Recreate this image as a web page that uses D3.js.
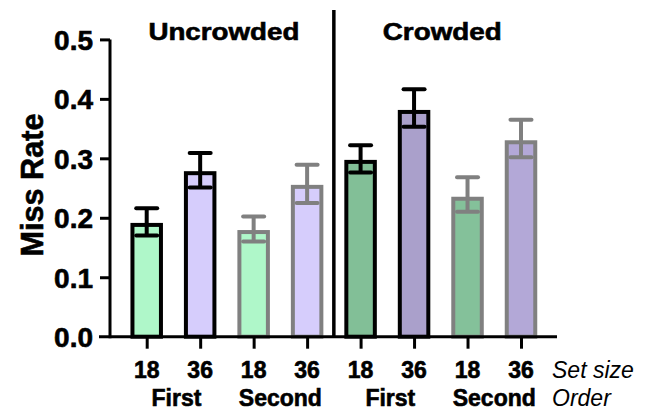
<!DOCTYPE html>
<html>
<head>
<meta charset="utf-8">
<script src="https://cdn.jsdelivr.net/npm/d3@7/dist/d3.min.js"></script>
<style>
  body { margin: 0; background: #fff; }
  svg { display: block; font-family: "Liberation Sans", Arial, Helvetica, sans-serif; }
  .heavy { stroke: #000; stroke-width: 0.6px; paint-order: stroke; }
</style>
</head>
<body>
<svg id="chart" width="648" height="412"></svg>
<script>
// ---- data ----
const conditions = ["Uncrowded", "Crowded"];
const orders = ["First", "Second"];
const setSizes = ["18", "36"];
const barKeys = ["U-F-18", "U-F-36", "U-S-18", "U-S-36", "C-F-18", "C-F-36", "C-S-18", "C-S-36"];
const missRate = [0.188, 0.275, 0.176, 0.252, 0.294, 0.378, 0.232, 0.327];
const errLow   = [0.170, 0.251, 0.160, 0.225, 0.276, 0.353, 0.210, 0.302];
const errHigh  = [0.216, 0.309, 0.202, 0.289, 0.322, 0.416, 0.268, 0.365];
const yTicks = [0.0, 0.1, 0.2, 0.3, 0.4, 0.5];
const fills = ["#aff7c9", "#d6cdfc", "#aff7c9", "#d6cdfc", "#82bf97", "#aaa0cb", "#84c19a", "#b3a8d7"];
const strokes = ["#000", "#000", "#808080", "#808080", "#000", "#000", "#808080", "#808080"];

// ---- layout ----
const svg = d3.select("#chart");
const y = d3.scaleLinear().domain([0, 0.5]).range([336.7, 39.4]);
const x = d3.scalePoint().domain(barKeys).range([146.7, 521]);
const barW = 28.5;
const sw = 4;

// bars
svg.append("g").selectAll("rect").data(barKeys).join("rect")
  .attr("x", d => x(d) - barW / 2)
  .attr("y", (d, i) => y(missRate[i]))
  .attr("width", barW)
  .attr("height", (d, i) => y(0) - y(missRate[i]))
  .attr("fill", (d, i) => fills[i])
  .attr("stroke", (d, i) => strokes[i])
  .attr("stroke-width", sw);

// error bars
const capW = 21;
const eg = svg.append("g").selectAll("g").data(barKeys).join("g")
  .attr("stroke", (d, i) => strokes[i])
  .attr("stroke-width", 4);
eg.append("line")
  .attr("x1", d => x(d)).attr("x2", d => x(d))
  .attr("y1", (d, i) => y(errLow[i])).attr("y2", (d, i) => y(errHigh[i]));
eg.append("line")
  .attr("x1", d => x(d) - capW / 2).attr("x2", d => x(d) + capW / 2)
  .attr("y1", (d, i) => y(errHigh[i])).attr("y2", (d, i) => y(errHigh[i]))
  .attr("stroke-linecap", "round");
eg.append("line")
  .attr("x1", d => x(d) - capW / 2).attr("x2", d => x(d) + capW / 2)
  .attr("y1", (d, i) => y(errLow[i])).attr("y2", (d, i) => y(errLow[i]))
  .attr("stroke-linecap", "round");

// y axis
const yAxis = d3.axisLeft(y).tickValues(yTicks).tickFormat(d3.format(".1f")).tickSize(10).tickPadding(7);
const yg = svg.append("g").attr("transform", "translate(110,0)").call(yAxis);
yg.select(".domain").attr("stroke-width", 3).attr("d", `M0,${y(0.5)}V${y(0) + 1.5}`);
yg.selectAll(".tick line").attr("stroke-width", 3);
yg.selectAll(".tick").filter(d => d === 0).select("line").remove();
yg.selectAll(".tick text")
  .attr("class", "heavy")
  .attr("font-size", 28).attr("font-weight", "bold").attr("fill", "#000")
  .attr("dy", "0.36em");

// x axis
const xAxis = d3.axisBottom(x).tickSize(12).tickFormat(() => "");
const xg = svg.append("g").attr("transform", `translate(0,${y(0)})`).call(xAxis);
xg.select(".domain").attr("stroke-width", 3).attr("d", `M99,0H557`);
xg.selectAll(".tick line").attr("stroke-width", 3);

// set-size labels
svg.append("g").selectAll("text").data(barKeys).join("text")
  .attr("class", "heavy")
  .attr("x", d => x(d))
  .attr("y", 378)
  .attr("text-anchor", "middle")
  .attr("font-size", 23).attr("font-weight", "bold")
  .text((d, i) => setSizes[i % 2]);

// order labels
const pairs = [0, 1, 2, 3];
svg.append("g").selectAll("text").data(pairs).join("text")
  .attr("class", "heavy")
  .attr("x", p => (x(barKeys[2 * p]) + x(barKeys[2 * p + 1])) / 2 + (p % 2 === 0 ? 3 : 0))
  .attr("y", 406)
  .attr("text-anchor", "middle")
  .attr("font-size", 23).attr("font-weight", "bold")
  .text(p => orders[p % 2]);

// italic row names
svg.append("text").attr("x", 552).attr("y", 378)
  .attr("font-size", 23).attr("font-style", "italic").text("Set size");
svg.append("text").attr("x", 552).attr("y", 406)
  .attr("font-size", 23).attr("font-style", "italic").text("Order");

// divider
const divX = (x(barKeys[3]) + x(barKeys[4])) / 2;
svg.append("line")
  .attr("x1", divX).attr("x2", divX)
  .attr("y1", 10).attr("y2", 338)
  .attr("stroke", "#000").attr("stroke-width", 3.5);

// condition titles
const titleX = [(x(barKeys[0]) + x(barKeys[3])) / 2 - 3, (x(barKeys[4]) + x(barKeys[7])) / 2 + 1.5];
const titleLen = [151, 119];
svg.append("g").selectAll("text").data(conditions).join("text")
  .attr("class", "heavy")
  .attr("x", (d, i) => titleX[i])
  .attr("y", 40)
  .attr("text-anchor", "middle")
  .attr("font-size", 24).attr("font-weight", "bold")
  .attr("textLength", (d, i) => titleLen[i])
  .attr("lengthAdjust", "spacingAndGlyphs")
  .text(d => d);

// y axis title
svg.append("text")
  .attr("class", "heavy")
  .attr("transform", "translate(42.5,185) rotate(-90)")
  .attr("text-anchor", "middle")
  .attr("font-size", 32).attr("font-weight", "bold")
  .attr("textLength", 143).attr("lengthAdjust", "spacingAndGlyphs")
  .text("Miss Rate");
</script>
</body>
</html>
